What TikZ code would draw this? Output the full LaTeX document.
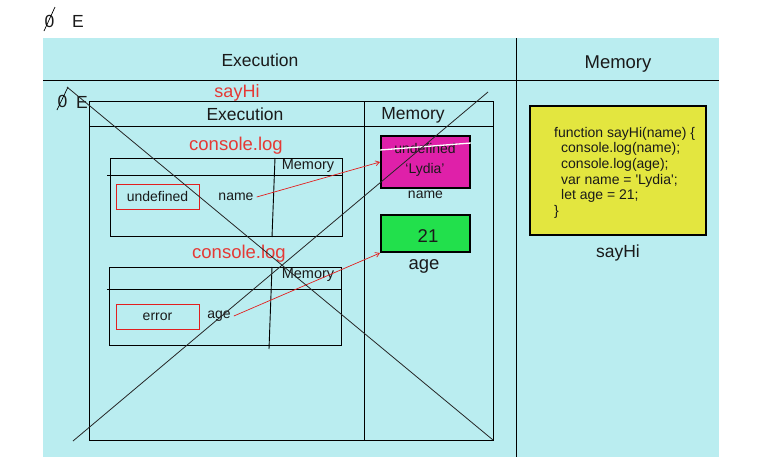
\documentclass[tikz,border=0pt]{standalone}
\usepackage{fontspec}
\setmainfont{Liberation Sans}
\usetikzlibrary{arrows.meta,positioning}
\definecolor{bgcyan}{HTML}{BAEDF0}
\definecolor{labelred}{HTML}{E53935}
\definecolor{boxred}{HTML}{E21F1F}
\definecolor{namemag}{HTML}{DF20A9}
\definecolor{agegreen}{HTML}{22E04C}
\definecolor{codeyellow}{HTML}{E3E63F}
\definecolor{inkblack}{HTML}{1A1A1A}

\begin{document}
\begin{tikzpicture}[x=1pt, y=-1pt, >={Straight Barb[length=4pt,width=5pt]},
  every node/.style={inner sep=0pt, text=inkblack},
  frame/.style={draw=black, line width=0.9pt},
  cross/.style={draw=black!85, line width=0.8pt},
  heading/.style={font=\fontsize{17.5}{20}\selectfont},
  redlabel/.style={font=\fontsize{18.5}{21}\selectfont, text=labelred},
  smalltext/.style={font=\fontsize{14}{16}\selectfont},
  errbox/.style={draw=boxred, line width=0.9pt, minimum width=83pt, minimum height=25pt, font=\fontsize{14}{16}\selectfont},
  valbox/.style={draw=black, line width=2pt, minimum width=89pt},
  ptr/.style={->, draw=boxred, line width=0.7pt}]
\useasboundingbox (0,0) rectangle (763,474);
\fill[bgcyan] (43,38) rectangle (719,457);
% outer table
\draw[frame] (43,80) -- (719,80);
\draw[frame] (516,38) -- (516,457);
\node[heading] (execTitle) at (260,60) {Execution};
\node[heading, font=\fontsize{18.5}{21}\selectfont] (memTitle) at (618,64) {Memory};
\node[heading] (zeroTop) at (49.5,21) {0};
\draw[frame, line width=0.7pt] (44,31) -- (55,7);
\node[heading] (eTop) at (78,21) {E};
% inner frame
\draw[frame] (89,101) rectangle (493,440);
\draw[frame] (89,126) -- (493,126);
\draw[frame] (364,101) -- (364,440);
\node[heading] (zeroIn) at (62.5,101) {0};
\draw[frame, line width=0.7pt] (57,110) -- (68,87);
\node[heading] (eIn) at (82,102) {E};
\node[redlabel, font=\fontsize{18}{21}\selectfont] (sayHiRed) at (237,93) {sayHi};
\node[heading] (execInner) at (245,114) {Execution};
\node[heading] (memInner) at (413,115) {Memory};
% console.log (name)
\node[redlabel] (logName) at (236,146) {console.log};
\draw[frame] (110,158) rectangle (342,236);
\draw[frame] (107,175) -- (342,175);
\draw[frame] (275,158) -- (272,237);
\node[smalltext, font=\fontsize{14.5}{16}\selectfont] (memName) at (308,166) {Memory};
\node[errbox] (undefBox) at (157.5,196.5) {undefined};
\node[smalltext] (nameRef) at (236,197) {name};
% console.log (age)
\node[redlabel] (logAge) at (239,254) {console.log};
\draw[frame] (109,267) rectangle (341,345);
\draw[frame] (107,289) -- (342,289);
\draw[frame] (272,267) -- (269,349);
\node[smalltext, font=\fontsize{14.5}{16}\selectfont] (memAge) at (308,275) {Memory};
\node[errbox] (errBox) at (157.5,316.5) {\raisebox{-3pt}{error}};
\node[smalltext] (ageRef) at (219,316) {age};
% memory values
\node[valbox, fill=namemag, minimum height=52pt] (nameVal) at (425.5,162) {};
\node[smalltext] (oldVal) at (425,148) {undefined};
\draw[white, line width=1.3pt] (nameVal.west |- 0,150) -- (nameVal.east |- 0,143);
\node[smalltext] (newVal) at (425,170) {`Lydia'};
\node[smalltext, below=2pt of nameVal] (nameTag) {name};
\node[valbox, fill=agegreen, minimum height=37pt] (ageVal) at (425.5,233.5) {};
\node[heading, font=\fontsize{18.5}{21}\selectfont] (ageNum) at (428,236) {21};
\node[heading, font=\fontsize{18.5}{21}\selectfont] (ageTag) at (424,266) {age};
\draw[ptr] (nameRef.east) ++(3pt,0) -- (nameVal.west);
\draw[ptr] (ageRef.east) ++(3pt,0) -- (ageVal.south west);
% crossed out
\draw[cross] (67,87) -- (493,440);
\draw[cross] (73,441) -- (488,92);
% heap
\node[draw=black, line width=2.5pt, fill=codeyellow, minimum width=176pt, minimum height=129pt] (sayHiFn) at (618,170.5) {};
\node[smalltext, align=left, anchor=north west, font=\fontsize{14}{15.6}\selectfont] (fnCode) at (554,127)
  {function sayHi(name) \{\\
   \hspace*{7pt}console.log(name);\\
   \hspace*{7pt}console.log(age);\\
   \hspace*{7pt}var name = \textquotesingle Lydia\textquotesingle;\\
   \hspace*{7pt}let age = 21;\\
   \}};
\node[heading] (fnTag) at (618,253) {sayHi};
\end{tikzpicture}
\end{document}
